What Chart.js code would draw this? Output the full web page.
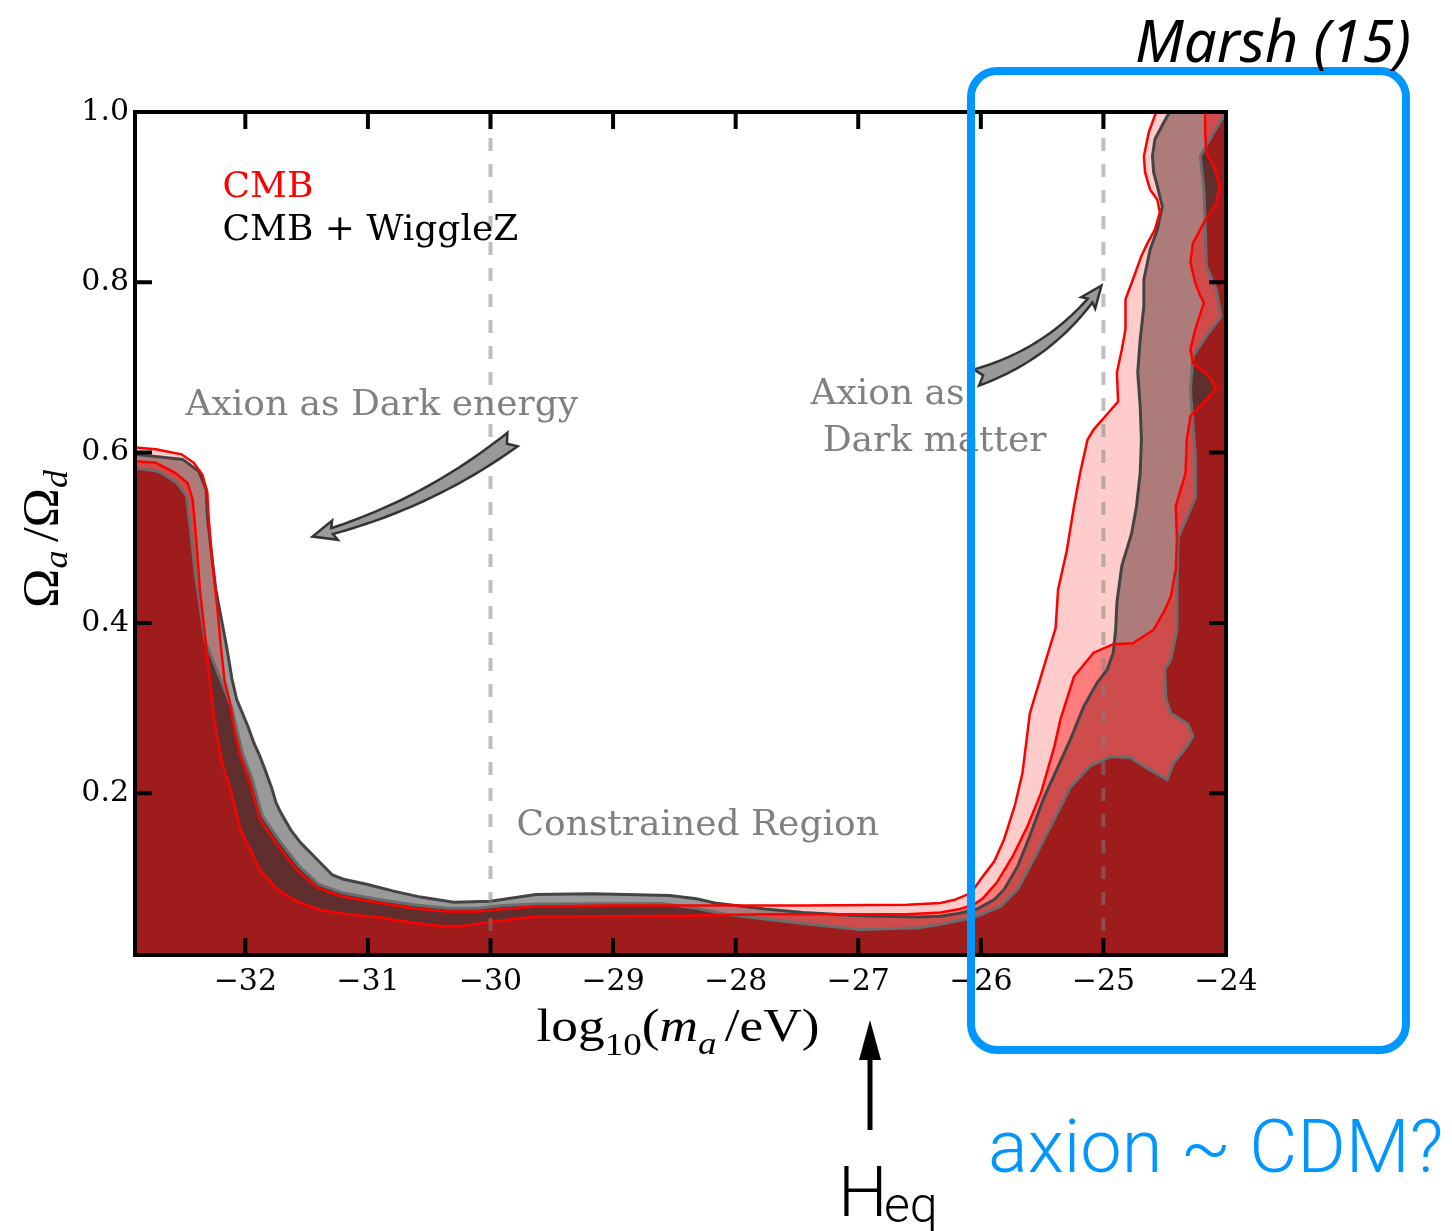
<!DOCTYPE html>
<html>
<head>
<meta charset="utf-8">
<title>Axion density constraints</title>
<script src="https://cdn.jsdelivr.net/npm/chart.js@4.4.1/dist/chart.umd.min.js"></script>
<style>
  html, body { margin: 0; padding: 0; background: #fff; }
  #wrap { width: 1452px; height: 1231px; position: relative; }
</style>
</head>
<body>
<div id="wrap"><canvas id="chart" width="1452" height="1231"></canvas></div>
<script>
// ---- axis ranges and ticks ----
const xLimits = [-32.9, -24.0];
const yLimits = [0.01, 1.0];
const xTicks = [-32, -31, -30, -29, -28, -27, -26, -25, -24];
const yTicks = [0.2, 0.4, 0.6, 0.8, 1.0];
const guideLines = [-30, -25];

// ---- contour boundaries [log10(m_a/eV), Omega_a/Omega_d] ----
// CMB, outer contour
const cmbOuter = [
  [-32.90,0.606],[-32.73,0.604],[-32.52,0.598],[-32.42,0.588],[-32.35,0.574],[-32.31,0.553],
  [-32.30,0.525],[-32.28,0.490],[-32.26,0.459],[-32.23,0.420],[-32.20,0.373],[-32.17,0.333],
  [-32.13,0.310],[-32.09,0.275],[-32.04,0.243],[-31.97,0.216],[-31.88,0.169],[-31.79,0.150],
  [-31.71,0.134],[-31.58,0.110],[-31.41,0.089],[-31.22,0.079],[-30.90,0.071],[-30.63,0.065],
  [-30.35,0.061],[-30.10,0.061],[-29.90,0.064],[-29.63,0.067],[-29.00,0.068],[-28.40,0.068],
  [-27.45,0.068],[-26.60,0.069],[-26.33,0.071],[-26.21,0.075],[-26.11,0.081],[-26.06,0.087],
  [-25.98,0.103],[-25.89,0.120],[-25.81,0.146],[-25.72,0.187],[-25.66,0.224],[-25.60,0.294],
  [-25.51,0.337],[-25.39,0.394],[-25.37,0.439],[-25.30,0.484],[-25.24,0.537],[-25.19,0.576],
  [-25.13,0.615],[-25.08,0.627],[-24.97,0.645],[-24.88,0.660],[-24.89,0.694],[-24.85,0.721],
  [-24.82,0.745],[-24.82,0.780],[-24.76,0.803],[-24.69,0.831],[-24.64,0.846],[-24.58,0.862],
  [-24.54,0.882],[-24.56,0.897],[-24.62,0.909],[-24.66,0.929],[-24.67,0.948],[-24.63,0.976],
  [-24.57,1.000]
];
// CMB, inner contour
const cmbInner = [
  [-32.90,0.590],[-32.73,0.588],[-32.57,0.576],[-32.47,0.564],[-32.43,0.545],[-32.41,0.514],
  [-32.39,0.478],[-32.37,0.439],[-32.34,0.400],[-32.31,0.361],[-32.28,0.322],[-32.26,0.294],
  [-32.23,0.267],[-32.19,0.236],[-32.12,0.204],[-32.04,0.157],[-31.88,0.110],[-31.74,0.087],
  [-31.58,0.073],[-31.39,0.063],[-31.17,0.058],[-30.90,0.054],[-30.63,0.048],[-30.41,0.044],
  [-30.22,0.044],[-30.00,0.049],[-29.63,0.055],[-28.40,0.056],[-27.76,0.058],[-27.14,0.058],
  [-26.60,0.058],[-26.33,0.060],[-26.17,0.064],[-26.06,0.069],[-25.98,0.077],[-25.87,0.095],
  [-25.74,0.126],[-25.62,0.161],[-25.51,0.200],[-25.40,0.255],[-25.35,0.287],[-25.24,0.337],
  [-25.08,0.365],[-24.92,0.375],[-24.76,0.376],[-24.59,0.392],[-24.51,0.412],[-24.45,0.431],
  [-24.41,0.463],[-24.40,0.498],[-24.41,0.537],[-24.33,0.576],[-24.32,0.615],[-24.29,0.643],
  [-24.16,0.662],[-24.08,0.676],[-24.14,0.690],[-24.27,0.705],[-24.29,0.721],[-24.25,0.745],
  [-24.18,0.776],[-24.21,0.784],[-24.25,0.799],[-24.29,0.823],[-24.27,0.846],[-24.18,0.870],
  [-24.08,0.893],[-24.05,0.913],[-24.10,0.936],[-24.16,0.952],[-24.17,0.976],[-24.17,1.000]
];
// CMB + WiggleZ, outer contour
const wigOuter = [
  [-32.90,0.598],[-32.51,0.592],[-32.38,0.578],[-32.32,0.557],[-32.31,0.525],[-32.28,0.486],
  [-32.24,0.439],[-32.20,0.408],[-32.15,0.370],[-32.11,0.335],[-32.07,0.310],[-31.98,0.279],
  [-31.93,0.259],[-31.88,0.243],[-31.84,0.228],[-31.78,0.204],[-31.75,0.189],[-31.71,0.177],
  [-31.63,0.157],[-31.55,0.142],[-31.44,0.126],[-31.29,0.104],[-31.20,0.099],[-31.01,0.093],
  [-30.79,0.085],[-30.57,0.078],[-30.30,0.072],[-30.00,0.073],[-29.63,0.081],[-29.17,0.082],
  [-28.54,0.080],[-28.32,0.076],[-28.17,0.071],[-27.76,0.064],[-27.45,0.060],[-26.98,0.056],
  [-26.51,0.0545],[-26.33,0.0555],[-26.17,0.059],[-26.03,0.064],[-25.89,0.075],[-25.81,0.087],
  [-25.70,0.114],[-25.60,0.150],[-25.49,0.193],[-25.38,0.228],[-25.27,0.263],[-25.16,0.302],
  [-25.05,0.330],[-24.97,0.345],[-24.92,0.365],[-24.90,0.392],[-24.89,0.424],[-24.85,0.467],
  [-24.81,0.486],[-24.77,0.505],[-24.73,0.537],[-24.70,0.576],[-24.69,0.615],[-24.70,0.654],
  [-24.72,0.694],[-24.70,0.733],[-24.67,0.772],[-24.67,0.803],[-24.62,0.838],[-24.56,0.862],
  [-24.52,0.889],[-24.56,0.913],[-24.59,0.929],[-24.60,0.948],[-24.58,0.968],[-24.51,0.987],
  [-24.46,1.000]
];
// CMB + WiggleZ, inner contour
const wigInner = [
  [-32.90,0.582],[-32.71,0.578],[-32.56,0.565],[-32.48,0.549],[-32.45,0.514],[-32.43,0.486],
  [-32.41,0.459],[-32.37,0.420],[-32.33,0.380],[-32.22,0.340],[-32.11,0.300],[-32.07,0.275],
  [-32.02,0.245],[-31.95,0.219],[-31.86,0.173],[-31.77,0.154],[-31.69,0.138],[-31.56,0.114],
  [-31.40,0.093],[-31.21,0.083],[-30.90,0.075],[-30.63,0.069],[-30.35,0.065],[-30.10,0.065],
  [-29.90,0.068],[-29.63,0.070],[-28.60,0.0705],[-28.32,0.065],[-28.07,0.0575],[-27.45,0.047],
  [-26.98,0.040],[-26.51,0.042],[-26.33,0.046],[-26.06,0.054],[-25.84,0.067],[-25.70,0.087],
  [-25.57,0.122],[-25.43,0.161],[-25.27,0.207],[-25.11,0.232],[-24.94,0.243],[-24.78,0.242],
  [-24.65,0.230],[-24.48,0.216],[-24.43,0.235],[-24.32,0.255],[-24.27,0.267],[-24.31,0.281],
  [-24.45,0.294],[-24.49,0.310],[-24.50,0.345],[-24.45,0.357],[-24.40,0.392],[-24.40,0.443],
  [-24.39,0.500],[-24.25,0.547],[-24.25,0.596],[-24.27,0.635],[-24.29,0.674],[-24.27,0.713],
  [-24.16,0.737],[-24.04,0.760],[-24.08,0.792],[-24.16,0.819],[-24.17,0.870],[-24.18,0.909],
  [-24.21,0.948],[-24.10,0.976],[-24.02,0.995],[-24.00,1.000]
];

// ---- helpers that turn the arrays into Chart.js datasets ----
const toPoints = arr => arr.map(([x, y]) => ({ x, y }));

// allowed region: everything below / right of a contour, closed along the frame
function region(arr) {
  const pts = toPoints(arr);
  pts.push({ x: xLimits[1], y: yLimits[1] },
           { x: xLimits[1], y: yLimits[0] },
           { x: xLimits[0], y: yLimits[0] });
  return pts;
}
const fillSet = (arr, color, order) => ({
  data: region(arr), fill: 'shape', backgroundColor: color,
  borderWidth: 0, borderColor: 'transparent', pointRadius: 0, order
});
const lineSet = (arr, color, width, order) => ({
  data: toPoints(arr), fill: false, borderColor: color,
  borderWidth: width, pointRadius: 0, order
});
const guideSet = (xv) => ({
  data: [{ x: xv, y: yLimits[1] }, { x: xv, y: yLimits[0] }],
  fill: false, borderColor: 'rgba(128,128,128,0.5)', borderWidth: 4,
  borderDash: [13, 13], pointRadius: 0, order: 0
});

const SERIF = '"DejaVu Serif", serif';
const MATH = '"Liberation Serif", serif';
const fmtX = v => (v < 0 ? '\u2212' : '') + Math.abs(v);

// ---- drawing helpers for annotations ----
// draws a run of differently styled pieces; optional width stretches it horizontally
function richText(ctx, parts, x, y, align, width) {
  let w = 0;
  parts.forEach(p => { ctx.font = p.font; p.w = ctx.measureText(p.t).width; w += p.w + (p.gap || 0); });
  const sx = width ? width / w : 1;
  ctx.save();
  ctx.translate(align === 'center' ? x - (w * sx) / 2 : x, y);
  ctx.scale(sx, 1);
  let cx = 0;
  parts.forEach(p => {
    ctx.font = p.font;
    ctx.fillText(p.t, cx, p.dy || 0);
    cx += p.w + (p.gap || 0);
  });
  ctx.restore();
}

function fancyArrow(ctx, tail, tip, bend, wTail, wNeck, headLen, headHalf, notch) {
  const dx = tip.x - tail.x, dy = tip.y - tail.y, L = Math.hypot(dx, dy);
  const c = { x: (tail.x + tip.x) / 2 - dy / L * bend, y: (tail.y + tip.y) / 2 + dx / L * bend };
  const P = t => ({
    x: (1 - t) * (1 - t) * tail.x + 2 * (1 - t) * t * c.x + t * t * tip.x,
    y: (1 - t) * (1 - t) * tail.y + 2 * (1 - t) * t * c.y + t * t * tip.y
  });
  const D = t => {
    const vx = 2 * (1 - t) * (c.x - tail.x) + 2 * t * (tip.x - c.x);
    const vy = 2 * (1 - t) * (c.y - tail.y) + 2 * t * (tip.y - c.y);
    const m = Math.hypot(vx, vy);
    return { x: vx / m, y: vy / m };
  };
  const tEnd = 1 - headLen / L, N = 30, left = [], right = [];
  for (let i = 0; i <= N; i++) {
    const t = tEnd * i / N, p = P(t), d = D(t);
    const w = (wTail + (wNeck - wTail) * i / N) / 2;
    left.push({ x: p.x - d.y * w, y: p.y + d.x * w });
    right.push({ x: p.x + d.y * w, y: p.y - d.x * w });
  }
  const b = P(tEnd), db = D(tEnd), p0 = P(0), d0 = D(0);
  ctx.beginPath();
  ctx.moveTo(p0.x + d0.x * notch, p0.y + d0.y * notch);
  left.forEach(q => ctx.lineTo(q.x, q.y));
  ctx.lineTo(b.x - db.y * headHalf - db.x * 3, b.y + db.x * headHalf - db.y * 3);
  ctx.lineTo(tip.x, tip.y);
  ctx.lineTo(b.x + db.y * headHalf - db.x * 3, b.y - db.x * headHalf - db.y * 3);
  for (let i = right.length - 1; i >= 0; i--) ctx.lineTo(right[i].x, right[i].y);
  ctx.closePath();
  ctx.fillStyle = '#999999';
  ctx.fill();
  ctx.lineJoin = 'miter';
  ctx.lineWidth = 2.5;
  ctx.strokeStyle = '#333333';
  ctx.stroke();
}

// frame, inward ticks, axis titles and in-plot notes
const frameNotes = {
  id: 'frameNotes',
  afterDatasetsDraw(chart) {
    const { ctx, chartArea: a, scales: { x, y } } = chart;
    const X = v => x.getPixelForValue(v), Y = v => y.getPixelForValue(v);
    ctx.save();

    // inward tick marks on all four sides
    const TL = 17;
    ctx.strokeStyle = '#000';
    ctx.lineWidth = 4;
    ctx.beginPath();
    x.ticks.forEach(t => {
      const px = X(t.value);
      ctx.moveTo(px, a.bottom); ctx.lineTo(px, a.bottom - TL);
      ctx.moveTo(px, a.top); ctx.lineTo(px, a.top + TL);
    });
    y.ticks.forEach(t => {
      const py = Y(t.value);
      ctx.moveTo(a.left, py); ctx.lineTo(a.left + TL, py);
      ctx.moveTo(a.right, py); ctx.lineTo(a.right - TL, py);
    });
    ctx.stroke();
    ctx.strokeRect(a.left, a.top, a.right - a.left, a.bottom - a.top);

    // legend
    ctx.textBaseline = 'alphabetic';
    ctx.textAlign = 'left';
    ctx.font = '36px ' + SERIF;
    ctx.fillStyle = '#ff0000';
    ctx.fillText('CMB', X(-32.186), Y(0.8996));
    ctx.fillStyle = '#000000';
    ctx.fillText('CMB + WiggleZ', X(-32.186), Y(0.8491));

    // region notes
    ctx.fillStyle = '#808080';
    ctx.fillText('Axion as Dark energy', X(-32.488), Y(0.6447));
    ctx.fillText('Axion as', X(-27.39), Y(0.6576));
    ctx.fillText('Dark matter', X(-27.29), Y(0.6013));
    ctx.fillText('Constrained Region', X(-29.788), Y(0.1504));

    // pointers
    fancyArrow(ctx, { x: X(-29.82), y: Y(0.6154) }, { x: X(-31.452), y: Y(0.5014) }, -22, 17, 6, 20, 10, 7);
    fancyArrow(ctx, { x: X(-26.036), y: Y(0.6882) }, { x: X(-25.016), y: Y(0.7962) }, 26, 17, 6, 18, 9, 7);

    // axis titles
    ctx.fillStyle = '#000';
    richText(ctx, [
      { t: 'log', font: '46px ' + MATH },
      { t: '10', font: '32px ' + MATH, dy: 14 },
      { t: '(', font: '46px ' + MATH },
      { t: 'm', font: 'italic 46px ' + MATH },
      { t: 'a', font: 'italic 32px ' + MATH, dy: 13, gap: 7 },
      { t: '/eV)', font: '46px ' + MATH }
    ], 678, 1041, 'center', 283);

    ctx.save();
    ctx.translate(57, 539);
    ctx.rotate(-Math.PI / 2);
    richText(ctx, [
      { t: '\u03A9', font: '50px ' + MATH },
      { t: 'a', font: 'italic 34px ' + MATH, dy: 10, gap: 8 },
      { t: '/\u03A9', font: '50px ' + MATH },
      { t: 'd', font: 'italic 34px ' + MATH, dy: 10 }
    ], 0, 0, 'center', 138);
    ctx.restore();

    ctx.restore();
  },
  afterDraw(chart) {
    const { ctx } = chart;
    ctx.save();
    // highlighted mass window
    ctx.strokeStyle = '#0096ff';
    ctx.lineWidth = 8;
    ctx.beginPath();
    ctx.roundRect(971, 71, 435, 979, 26);
    ctx.stroke();

    ctx.textBaseline = 'alphabetic';
    ctx.textAlign = 'left';
    ctx.fillStyle = '#000';
    ctx.font = 'italic 58px "Noto Sans", sans-serif';
    ctx.fillText('Marsh (15)', 1135, 62);

    ctx.fillStyle = '#0096ff';
    ctx.font = '300 74px Roboto, "Open Sans", sans-serif';
    ctx.fillText('axion ~ CDM?', 988, 1172);

    // H_eq marker with upward arrow
    ctx.fillStyle = '#000';
    ctx.font = '300 70px Roboto, "Open Sans", sans-serif';
    ctx.fillText('H', 838, 1216);
    ctx.font = '300 50px Roboto, "Open Sans", sans-serif';
    ctx.fillText('eq', 884, 1222);
    ctx.fillRect(867.5, 1055, 5, 75);
    ctx.beginPath();
    ctx.moveTo(870, 1020);
    ctx.lineTo(881, 1060);
    ctx.lineTo(859, 1060);
    ctx.closePath();
    ctx.fill();
    ctx.restore();
  }
};

new Chart(document.getElementById('chart'), {
  type: 'line',
  data: {
    datasets: [
      fillSet(wigOuter, 'rgba(0,0,0,0.40)', 12),
      fillSet(wigInner, 'rgba(0,0,0,0.63)', 11),
      fillSet(cmbOuter, 'rgba(255,0,0,0.20)', 10),
      fillSet(cmbInner, 'rgba(255,0,0,0.39)', 9),
      lineSet(wigOuter, '#444444', 3, 8),
      lineSet(wigInner, '#6c6c6c', 3, 7),
      lineSet(cmbOuter, '#ff0000', 2.5, 6),
      lineSet(cmbInner, '#ff0000', 2.5, 5),
      ...guideLines.map(guideSet)
    ]
  },
  options: {
    responsive: false,
    devicePixelRatio: 1,
    animation: false,
    events: [],
    layout: { padding: { top: 112, right: 226, left: 0, bottom: 0 } },
    plugins: { legend: { display: false }, tooltip: { enabled: false } },
    scales: {
      x: {
        type: 'linear', min: xLimits[0], max: xLimits[1],
        afterBuildTicks: s => { s.ticks = xTicks.map(v => ({ value: v })); },
        afterFit: s => { s.height = 276; },
        grid: { display: false, drawTicks: false },
        border: { display: false },
        ticks: {
          autoSkip: false, maxRotation: 0, padding: 9, color: '#000',
          font: { family: 'DejaVu Serif', size: 30 },
          callback: v => fmtX(v)
        }
      },
      y: {
        type: 'linear', min: yLimits[0], max: yLimits[1],
        afterBuildTicks: s => { s.ticks = yTicks.map(v => ({ value: v })); },
        afterFit: s => { s.width = 135; },
        grid: { display: false, drawTicks: false },
        border: { display: false },
        ticks: {
          autoSkip: false, padding: 6, color: '#000',
          font: { family: 'DejaVu Serif', size: 30 },
          callback: v => v.toFixed(1)
        }
      }
    }
  },
  plugins: [frameNotes]
});
</script>
</body>
</html>
